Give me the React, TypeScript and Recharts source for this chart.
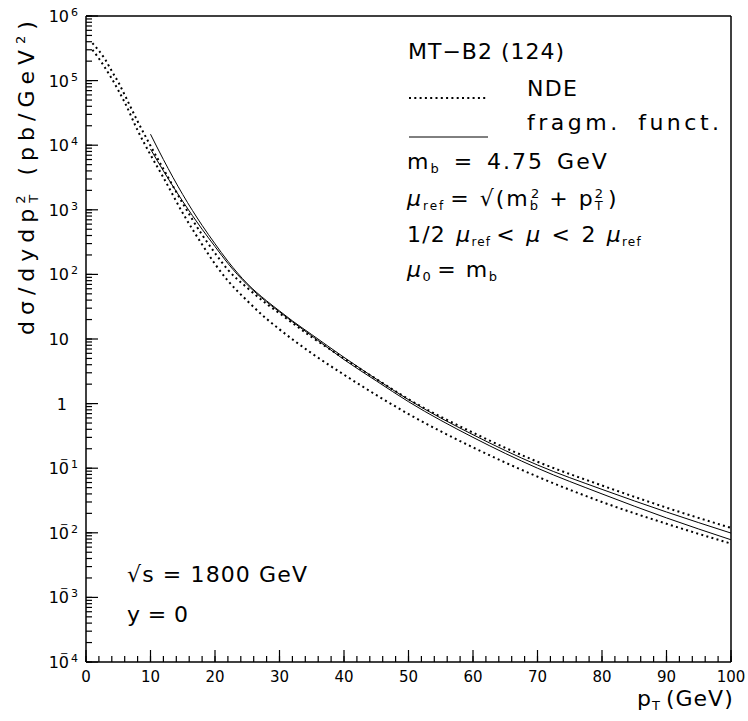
import React from "react";
import { LineChart, Line, XAxis, YAxis, ReferenceLine } from "recharts";

// pT grid and NDE band (dotted curves)
const NDE_PT = [1, 2, 3, 4, 5, 6, 8, 10, 12, 15, 18, 20, 22, 25, 28, 30, 35, 40, 45, 50, 60, 70, 80, 90, 100];
const NDE_UPPER = [3.8e5, 2.9e5, 2.1e5, 1.4e5, 9.5e4, 6.0e4, 2.35e4, 9.8e3, 4.3e3, 1.26e3, 410, 214, 118, 62, 35, 25, 10.7, 5.0, 2.4, 1.17, 0.355, 0.126, 0.054, 0.0245, 0.0119];
const NDE_LOWER = [3.0e5, 2.2e5, 1.55e5, 1.07e5, 7.1e4, 4.6e4, 1.7e4, 7.1e3, 3.16e3, 890, 290, 145, 80, 39, 20.5, 14.1, 6.0, 2.8, 1.36, 0.69, 0.21, 0.074, 0.03, 0.0138, 0.0068];

// fragmentation-function band (solid curves)
const FF_PT = [10, 12, 15, 18, 20, 22, 25, 28, 30, 32, 35, 40, 45, 50, 60, 70, 80, 90, 100];
const FF_UPPER = [1.48e4, 6.0e3, 1.72e3, 575, 298, 160, 72, 39, 27.2, 19.1, 11.7, 5.2, 2.4, 1.15, 0.33, 0.112, 0.047, 0.021, 0.0099];
const FF_LOWER = [8.7e3, 4.0e3, 1.35e3, 500, 270, 148, 69, 37.5, 26.3, 18.5, 11.2, 4.8, 2.25, 1.07, 0.3, 0.1, 0.04, 0.017, 0.0078];

// axis ticks
const X_MAJOR = [0, 10, 20, 30, 40, 50, 60, 70, 80, 90, 100];
const Y_EXPONENTS = [-4, -3, -2, -1, 0, 1, 2, 3, 4, 5, 6];

const W = 748;
const H = 721;
const FONT = "DejaVu Sans";
const DOTS = "2 3.3";
const Y_MIN = 1e-4;
const Y_MAX = 1e6;

const toPoints = (pts: number[], vals: number[]) => pts.map((pt, i) => ({ pt, v: vals[i] }));

const xTicks: number[] = [];
for (let i = 0; i <= 100; i += 2) xTicks.push(i);
const yTicks: number[] = [];
Y_EXPONENTS.forEach((e) => {
  yTicks.push(Math.pow(10, e));
  if (e < 6) for (let k = 2; k <= 9; k++) yTicks.push(k * Math.pow(10, e));
});
const isMajorY = (v: number) => {
  const lg = Math.log10(v);
  return Math.abs(lg - Math.round(lg)) < 1e-6;
};

const XTick = (props: any) => {
  const { x, payload } = props;
  if (!X_MAJOR.includes(payload.value)) return null;
  return (
    <text x={x} y={682} textAnchor="middle" fontFamily={FONT} fontSize={15} fill="#000">
      {payload.value}
    </text>
  );
};

const YTick = (props: any) => {
  const { y, payload } = props;
  if (!isMajorY(payload.value)) return null;
  const e = Math.round(Math.log10(payload.value));
  if (e === 0 || e === 1) {
    return (
      <text x={e === 0 ? 67 : 69} y={y + 6} textAnchor="end" fontFamily={FONT} fontSize={16} fill="#000">
        {e === 0 ? "1" : "10"}
      </text>
    );
  }
  return (
    <g fontFamily={FONT} fill="#000">
      <text x={69} y={y + 6} textAnchor="end" fontSize={16}>10</text>
      {e < 0 && <text x={60} y={y - 5} fontSize={10}>{"\u2212"}</text>}
      <text x={71} y={y} fontSize={11}>{Math.abs(e)}</text>
    </g>
  );
};

// annotation layer, placed under the chart surface
const Overlay = () => (
  <svg width={W} height={H} style={{ position: "absolute", left: 0, top: 0, pointerEvents: "none" }}>
    <g fontFamily={FONT} fontSize={22} fill="#000">
      <text x={408} y={59} textLength={156} lengthAdjust="spacing">MT{"\u2212"}B2 (124)</text>
      <line x1={409} x2={487} y1={98} y2={98} stroke="#000" strokeWidth={2} strokeDasharray={DOTS} />
      <text x={527} y={96} textLength={50} lengthAdjust="spacing">NDE</text>
      <line x1={409} x2={488} y1={137} y2={137} stroke="#000" strokeWidth={1} />
      <text x={527} y={130} letterSpacing={3.5} wordSpacing={7}>fragm. funct.</text>
      <text x={407} y={169} letterSpacing={2} wordSpacing={4}>
        m<tspan dy={4} fontSize={13}>b</tspan><tspan dy={-4}> = 4.75 GeV</tspan>
      </text>
      <text x={407} y={206} letterSpacing={2}>
        <tspan fontStyle="italic">{"\u03bc"}</tspan><tspan dy={4} fontSize={12}>ref</tspan>
        <tspan dy={-4} dx={5}>= {"\u221a"}(m</tspan><tspan dy={4} fontSize={13}>b</tspan><tspan dy={-12} dx={-9} fontSize={13}>2</tspan>
        <tspan dy={8} dx={8}>+ p</tspan><tspan dy={4} fontSize={13}>T</tspan><tspan dy={-12} dx={-10} fontSize={13}>2</tspan>
        <tspan dy={8} dx={3}>)</tspan>
      </text>
      <text x={407} y={242} letterSpacing={1.2} wordSpacing={2}>
        1/2 <tspan fontStyle="italic">{"\u03bc"}</tspan><tspan dy={4} fontSize={12}>ref</tspan>
        <tspan dy={-4} dx={5}>{"<"} </tspan><tspan fontStyle="italic">{"\u03bc"}</tspan>
        <tspan> {"<"} 2 </tspan><tspan fontStyle="italic">{"\u03bc"}</tspan><tspan dy={4} fontSize={12}>ref</tspan>
      </text>
      <text x={407} y={277} letterSpacing={1.5}>
        <tspan fontStyle="italic">{"\u03bc"}</tspan><tspan dy={4} fontSize={13}>0</tspan>
        <tspan dy={-4} dx={5}>= m</tspan><tspan dy={4} fontSize={13}>b</tspan>
      </text>
      <text x={127} y={582} textLength={180} lengthAdjust="spacing">{"\u221a"}s = 1800 GeV</text>
      <text x={127} y={622} textLength={61} lengthAdjust="spacing">y = 0</text>
      <text x={637} y={706} letterSpacing={1}>
        p<tspan dy={4} fontSize={13}>T</tspan><tspan dy={-4} dx={5}>(GeV)</tspan>
      </text>
      <text x={34} y={335} transform="rotate(-90 34 335)" fontSize={22} letterSpacing={6}>
        d{"\u03c3"}/dydp<tspan dy={4} fontSize={13}>T</tspan><tspan dy={-13} dx={-15} fontSize={13}>2</tspan>
        <tspan dy={9} dx={14}>(pb/GeV</tspan><tspan dy={-9} fontSize={13}>2</tspan><tspan dy={9}>)</tspan>
      </text>
    </g>
  </svg>
);

export default function App() {
  return (
    <div style={{ position: "absolute", left: 0, top: 0, width: W, height: H }}>
      <Overlay />
      <LineChart width={W} height={H} margin={{ top: 16, right: 17, bottom: 19, left: 16 }}>
        <XAxis
          type="number"
          dataKey="pt"
          domain={[0, 100]}
          ticks={xTicks}
          interval={0}
          tickSize={-6}
          tickLine={{ stroke: "#000", strokeWidth: 1.2 }}
          axisLine={{ stroke: "#000", strokeWidth: 1.5 }}
          tick={<XTick />}
          height={40}
        />
        <YAxis
          type="number"
          scale="log"
          domain={[Y_MIN, Y_MAX]}
          ticks={yTicks}
          interval={0}
          tickSize={-6}
          tickLine={{ stroke: "#000", strokeWidth: 1.2 }}
          axisLine={{ stroke: "#000", strokeWidth: 1.5 }}
          tick={<YTick />}
          width={70}
        />
        {/* frame, top and right */}
        <ReferenceLine y={Y_MAX} stroke="#000" strokeWidth={1.5} />
        <ReferenceLine x={100} stroke="#000" strokeWidth={1.5} />
        {/* longer inward marks on the major ticks */}
        {X_MAJOR.map((t, i) => (
          <ReferenceLine
            key={"xt" + i}
            segment={[{ x: t, y: 1.0001 * Y_MIN }, { x: t, y: Y_MIN * 1.534 }]}
            stroke="#000"
            strokeWidth={1.2}
          />
        ))}
        {Y_EXPONENTS.map((e, i) => (
          <ReferenceLine
            key={"yt" + i}
            segment={[{ x: 0.01, y: Math.pow(10, e) }, { x: 1.86, y: Math.pow(10, e) }]}
            stroke="#000"
            strokeWidth={1.2}
          />
        ))}
        <Line data={toPoints(NDE_PT, NDE_UPPER)} dataKey="v" type="monotone" stroke="#000" strokeWidth={2} strokeDasharray={DOTS} dot={false} isAnimationActive={false} />
        <Line data={toPoints(NDE_PT, NDE_LOWER)} dataKey="v" type="monotone" stroke="#000" strokeWidth={2} strokeDasharray={DOTS} dot={false} isAnimationActive={false} />
        <Line data={toPoints(FF_PT, FF_UPPER)} dataKey="v" type="monotone" stroke="#000" strokeWidth={1} dot={false} isAnimationActive={false} />
        <Line data={toPoints(FF_PT, FF_LOWER)} dataKey="v" type="monotone" stroke="#000" strokeWidth={1} dot={false} isAnimationActive={false} />
      </LineChart>
    </div>
  );
}
